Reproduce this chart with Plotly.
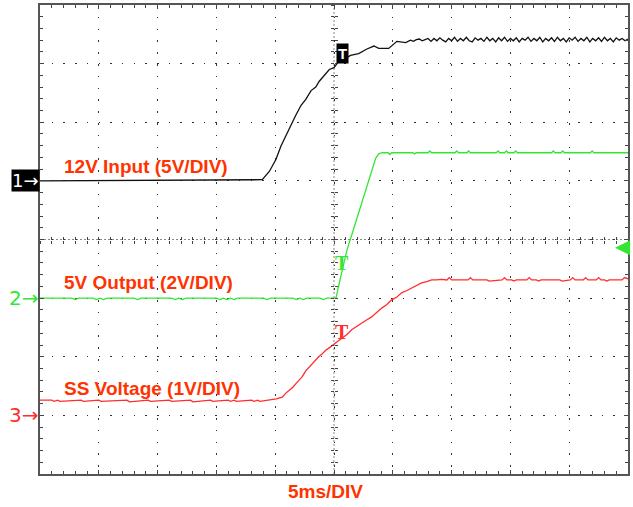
import plotly.graph_objects as go

# Time in ms relative to trigger (5 ms/div), vertical in screen divisions (0..8)

# ---------------- CH1: 12V input (black) ----------------
ch1_t = [-25.0, -6.1, -5.5, -4.95, -4.5, -4.1, -3.65, -3.25, -2.8, -2.4,
         -1.95, -1.55, -1.25, -0.85, -0.4, 0.0, 0.4, 0.85, 1.4, 2.1,
         2.8, 3.4, 3.8, 4.65, 5.35, 6.1,
         6.5, 6.75, 7.0, 7.25, 7.5, 7.75, 8.0,
         8.25, 8.5, 8.75, 9.0, 9.25, 9.5, 9.75, 10.0, 10.25, 10.5,
         10.75, 11.0, 11.25, 11.5, 11.75, 12.0, 12.25, 12.5, 12.75, 13.0,
         13.25, 13.5, 13.75, 14.0, 14.25, 14.5, 14.75, 15.0, 15.25, 15.5,
         15.75, 16.0, 16.25, 16.5, 16.75, 17.0, 17.25, 17.5, 17.75, 18.0,
         18.25, 18.5, 18.75, 19.0, 19.25, 19.5, 19.75, 20.0, 20.25, 20.5,
         20.75, 21.0, 21.25, 21.5, 21.75, 22.0, 22.25, 22.5, 22.75, 23.0,
         23.25, 23.5, 23.75, 24.0, 24.25, 24.5, 24.75, 25.0]
ch1_v = [5.0, 5.02, 5.16, 5.36, 5.60, 5.77, 5.97, 6.12, 6.29, 6.39,
         6.54, 6.60, 6.70, 6.80, 6.90, 6.93, 7.04, 7.07, 7.14, 7.17,
         7.25, 7.30, 7.26, 7.26, 7.38, 7.36,
         7.40, 7.38, 7.41, 7.42, 7.39, 7.41, 7.43,
         7.38, 7.43, 7.39, 7.44, 7.40, 7.37, 7.43, 7.39, 7.45, 7.38,
         7.43, 7.39, 7.45, 7.39, 7.37, 7.44, 7.40, 7.43, 7.38, 7.45,
         7.39, 7.43, 7.37, 7.44, 7.39, 7.45, 7.38, 7.43, 7.39, 7.44,
         7.37, 7.43, 7.40, 7.45, 7.38, 7.43, 7.39, 7.45, 7.37, 7.43,
         7.39, 7.44, 7.38, 7.45, 7.39, 7.43, 7.37, 7.44, 7.40, 7.45,
         7.38, 7.43, 7.39, 7.45, 7.37, 7.43, 7.39, 7.44, 7.38, 7.45,
         7.39, 7.43, 7.37, 7.44, 7.40, 7.43, 7.39, 7.42]

# ---------------- CH2: 5V output (green) ----------------
ch2_t = [-25.0, -22.3, -22.0, -21.7, -20.5, -20.2, -19.9, -19.6, -19.3,
         -17.0, -16.7, -16.4, -13.8, -13.5, -13.2, -12.9, -12.6,
         -10.0, -9.7, -9.4, -9.1, -8.8, -8.5, -8.2,
         -6.0, -5.7, -5.4, -3.5, -3.2, -2.9, -2.6, -2.3,
         -1.2, -0.9, -0.6, 0.17,
         0.42, 1.1, 1.7, 2.3, 2.95, 3.55, 3.8, 4.1,
         4.6, 4.75, 4.9, 6.7, 6.85, 7.0, 8.0, 8.15, 8.3,
         10.3, 10.45, 10.6, 11.3, 11.45, 11.6, 13.8, 13.95, 14.1,
         14.5, 14.65, 14.8, 15.3, 15.45, 15.6, 18.5, 18.65, 18.8,
         19.3, 19.45, 19.6, 21.8, 21.95, 22.1, 25.0]
ch2_v = [3.0, 3.0, 2.975, 3.0, 3.0, 2.975, 3.0, 2.975, 3.0,
         3.0, 2.975, 3.0, 3.0, 2.975, 3.0, 2.975, 3.0,
         3.0, 2.975, 3.0, 2.975, 3.0, 2.975, 3.0,
         3.0, 2.975, 3.0, 3.0, 2.975, 3.0, 2.975, 3.0,
         3.0, 2.975, 3.0, 3.0,
         3.23, 3.82, 4.20, 4.59, 5.02, 5.39, 5.46, 5.48,
         5.48, 5.45, 5.48, 5.48, 5.46, 5.48, 5.48, 5.51, 5.48,
         5.48, 5.51, 5.48, 5.48, 5.51, 5.48, 5.48, 5.51, 5.48,
         5.48, 5.51, 5.48, 5.48, 5.51, 5.48, 5.48, 5.51, 5.48,
         5.48, 5.51, 5.48, 5.48, 5.51, 5.48, 5.48]

# ---------------- CH3: soft-start voltage (red) ----------------
ch3_t = [-25.0, -24.0, -23.8, -23.5, -23.3, -21.5, -21.3, -20.0, -19.8, -17.6,
         -17.4, -15.8, -15.6, -14.0, -13.8, -12.2, -12.0, -10.5, -10.3, -9.0,
         -8.8, -8.5, -8.3, -7.0, -6.8, -6.5, -6.3, -5.6, -5.25,
         -4.9, -4.4, -4.1, -3.8, -3.5, -3.2, -2.95, -2.7, -2.4, -2.1,
         -1.7, -1.3, -1.0, -0.7, -0.35, 0.0, 0.35, 0.7, 1.1, 1.5,
         1.95, 2.4, 2.8, 3.2, 3.65, 4.05, 4.5, 4.9, 5.35, 5.75,
         6.2, 6.6, 7.0, 7.45, 7.9, 8.3, 8.7, 9.15,
         9.6, 9.8, 10.0, 11.4, 11.6, 11.8, 13.0, 13.2, 14.3, 14.5,
         14.7, 15.1, 15.3, 15.5, 16.4, 16.6, 16.8, 17.2, 17.4, 17.6,
         19.2, 19.4, 20.1, 20.3, 20.5, 21.2, 21.4, 21.6, 22.3, 22.5,
         22.7, 23.0, 23.2, 23.4, 24.5, 24.7, 25.0]
ch3_v = [1.26, 1.26, 1.24, 1.26, 1.24, 1.26, 1.24, 1.26, 1.24, 1.26,
         1.23, 1.26, 1.24, 1.26, 1.24, 1.26, 1.23, 1.26, 1.24, 1.26,
         1.24, 1.26, 1.24, 1.26, 1.24, 1.26, 1.24, 1.26, 1.27,
         1.28, 1.31, 1.38, 1.43, 1.48, 1.55, 1.60, 1.66, 1.76, 1.83,
         1.92, 2.00, 2.05, 2.11, 2.16, 2.22, 2.27, 2.32, 2.38, 2.46,
         2.52, 2.59, 2.63, 2.68, 2.76, 2.83, 2.89, 2.97, 3.02, 3.09,
         3.13, 3.17, 3.22, 3.26, 3.28, 3.31, 3.31, 3.32,
         3.31, 3.35, 3.31, 3.31, 3.35, 3.31, 3.31, 3.29, 3.31, 3.35,
         3.31, 3.31, 3.29, 3.31, 3.31, 3.35, 3.31, 3.31, 3.29, 3.31,
         3.31, 3.29, 3.31, 3.35, 3.31, 3.31, 3.35, 3.31, 3.31, 3.35,
         3.31, 3.31, 3.29, 3.31, 3.31, 3.35, 3.33]

trace_labels = ["12V Input (5V/DIV)", "5V Output (2V/DIV)", "SS Voltage (1V/DIV)"]
label_y = [5.24, 3.27, 1.46]
ground_labels = ["1→", "2→", "3→"]
ground_levels = [5.0, 3.0, 1.0]
x_label = "5ms/DIV"

BLACK = "#111111"
GREEN = "#33e633"
RED = "#ff2d2d"
TXT = "#ff3300"
FONT = "Liberation Sans, Arial, sans-serif"
MARK_FONT = "DejaVu Sans, sans-serif"

fig = go.Figure()
for t, v, c in [(ch1_t, ch1_v, BLACK), (ch2_t, ch2_v, GREEN), (ch3_t, ch3_v, RED)]:
    fig.add_trace(go.Scatter(x=t, y=v, mode="lines", line=dict(color=c, width=1.3),
                             hoverinfo="skip", showlegend=False))

# invisible traces to anchor the crosshair tick axes
fig.add_trace(go.Scatter(x=[None], y=[None], xaxis="x2", yaxis="y2", showlegend=False))
fig.add_trace(go.Scatter(x=[None], y=[None], xaxis="x3", yaxis="y3", showlegend=False))

grid_common = dict(showticklabels=False, zeroline=False, showline=True,
                   linecolor="#555555", linewidth=2, mirror="ticks",
                   ticks="inside", ticklen=4, tickcolor="#444444", tickwidth=1,
                   showgrid=True, gridcolor="#333333", gridwidth=1.3)

fig.update_layout(
    width=633, height=507,
    margin=dict(l=40, r=3, t=5, b=33),
    paper_bgcolor="white", plot_bgcolor="white",
    xaxis=dict(range=[-25, 25], tick0=-25, dtick=5, griddash="1.6px,10.2px",
               minor=dict(dtick=1, tick0=0, ticks="inside", ticklen=3, tickcolor="#444444", showgrid=False),
               **grid_common),
    yaxis=dict(range=[0, 8], tick0=0, dtick=1, griddash="1.6px,10.1px",
               minor=dict(dtick=0.2, tick0=0, ticks="inside", ticklen=3, tickcolor="#444444", showgrid=False),
               **grid_common),
    xaxis2=dict(overlaying="x", range=[-25, 25], anchor="free", position=0.5, side="bottom",
                ticks="outside", ticklen=3, tick0=0, dtick=1, tickcolor="#444444",
                showticklabels=False, showgrid=False, showline=False, zeroline=False),
    yaxis2=dict(overlaying="y", range=[0, 8], anchor="free", position=0.5, side="left",
                ticks="outside", ticklen=3, tick0=0, dtick=0.2, tickcolor="#444444",
                showticklabels=False, showgrid=False, showline=False, zeroline=False),
    xaxis3=dict(overlaying="x", range=[-25, 25], anchor="free", position=0.5, side="bottom",
                ticks="inside", ticklen=3, tick0=0, dtick=1, tickcolor="#444444",
                showticklabels=False, showgrid=False, showline=False, zeroline=False),
    yaxis3=dict(overlaying="y", range=[0, 8], anchor="free", position=0.5, side="left",
                ticks="inside", ticklen=3, tick0=0, dtick=0.2, tickcolor="#444444",
                showticklabels=False, showgrid=False, showline=False, zeroline=False),
)

# dotted centre crosshair
fig.add_shape(type="line", x0=0, x1=0, y0=0, y1=8, xref="x", yref="y",
              line=dict(color="#888888", width=1, dash="2px,2px"), layer="below")
fig.add_shape(type="line", x0=-25, x1=25, y0=4, y1=4, xref="x", yref="y",
              line=dict(color="#888888", width=1, dash="2px,2px"), layer="below")

for txt, yy in zip(trace_labels, label_y):
    fig.add_annotation(x=-23.1, y=yy, xref="x", yref="y", text=txt, showarrow=False,
                       xanchor="left", yanchor="middle",
                       font=dict(family=FONT, size=19, color=TXT, weight="bold"))

fig.add_annotation(x=0.486, y=-0.038, xref="paper", yref="paper", text=x_label, showarrow=False,
                   xanchor="center", yanchor="middle",
                   font=dict(family=FONT, size=19, color=TXT, weight="bold"))

# ground reference markers
fig.add_annotation(x=0, y=ground_levels[0], xref="paper", yref="y", text=ground_labels[0],
                   showarrow=False, xanchor="right", yanchor="middle", bgcolor="black",
                   borderpad=0, font=dict(family=MARK_FONT, size=18, color="white"))
fig.add_annotation(x=0, y=ground_levels[1], xref="paper", yref="y", text=ground_labels[1],
                   showarrow=False, xanchor="right", yanchor="middle",
                   font=dict(family=MARK_FONT, size=20, color=GREEN))
fig.add_annotation(x=0, y=ground_levels[2], xref="paper", yref="y", text=ground_labels[2],
                   showarrow=False, xanchor="right", yanchor="middle",
                   font=dict(family=MARK_FONT, size=20, color=RED))

# trigger markers
fig.add_annotation(x=0.76, y=7.17, xref="x", yref="y", text="<b>T</b>", showarrow=False,
                   bgcolor="black", borderpad=1, font=dict(family=FONT, size=15, color="white"))
fig.add_annotation(x=0.68, y=3.6, xref="x", yref="y", text="<b>T</b>", showarrow=False,
                   font=dict(family="Liberation Serif, serif", size=20, color=GREEN))
fig.add_annotation(x=0.68, y=2.42, xref="x", yref="y", text="<b>T</b>", showarrow=False,
                   font=dict(family="Liberation Serif, serif", size=20, color=RED))
# trigger level arrow on right edge
fig.add_annotation(x=23.9, y=3.86, xref="x", yref="y", ax=14, ay=0, text="", showarrow=True,
                   arrowhead=2, arrowsize=1.2, arrowwidth=2.5, arrowcolor=GREEN)

fig.write_html("out.html", config={"displayModeBar": False},
               post_script="document.body.style.margin='0';")
